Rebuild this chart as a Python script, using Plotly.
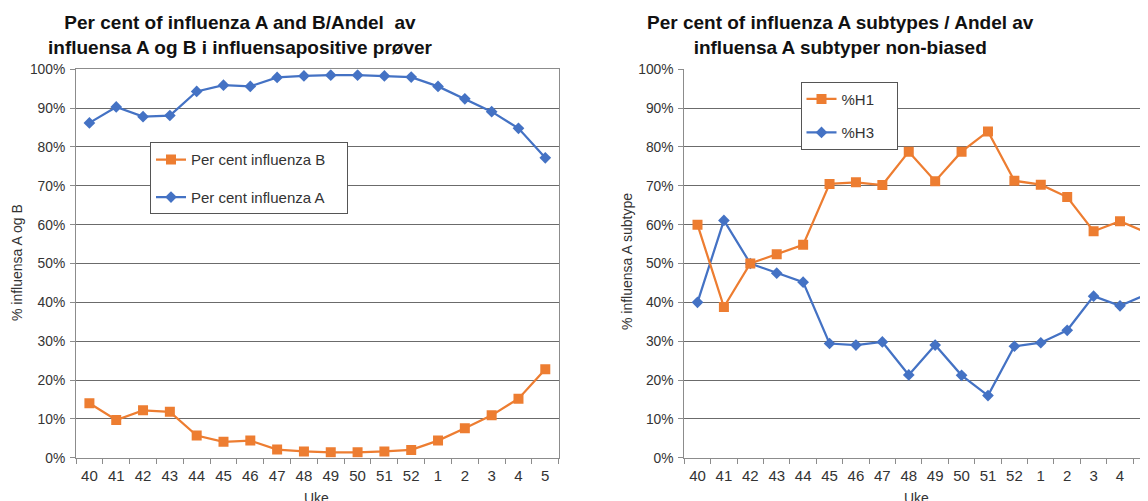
import plotly.graph_objects as go

weeks = ["40", "41", "42", "43", "44", "45", "46", "47", "48", "49", "50",
         "51", "52", "1", "2", "3", "4", "5"]

pct_influenza_b = [14.0, 9.7, 12.2, 11.8, 5.7, 4.1, 4.4, 2.1, 1.6, 1.4, 1.4,
                   1.6, 2.0, 4.4, 7.6, 10.9, 15.2, 22.8]
pct_influenza_a = [86.2, 90.3, 87.8, 88.1, 94.3, 95.9, 95.6, 97.9, 98.3, 98.5, 98.5,
                   98.3, 98.0, 95.6, 92.4, 89.1, 84.8, 77.2]

pct_h1 = [60.0, 38.8, 50.0, 52.4, 54.8, 70.5, 70.9, 70.2, 78.8, 71.2, 78.8,
          84.0, 71.3, 70.3, 67.1, 58.3, 60.9, 58.0]
pct_h3 = [40.0, 61.1, 50.0, 47.5, 45.2, 29.4, 29.0, 29.8, 21.3, 29.0, 21.2,
          16.0, 28.7, 29.6, 32.8, 41.6, 39.1, 42.0]

ORANGE = "#ED7D31"
BLUE = "#4472C4"
GRID = "#6b6b6b"
AXIS = "#8c8c8c"
TXT = "#333333"
FONT = "Liberation Sans, Arial, sans-serif"
PAD = "\u00a0" * 4

# page body has an 8px margin; the figure is placed at (8, 8)
OFF = 8
W, H = 1148 - OFF, 501 - OFF


def px_x(v):
    return (v - OFF) / W


def px_y(v):
    return (H - (v - OFF)) / H


fig = go.Figure()

fig.add_trace(go.Scatter(x=weeks, y=pct_influenza_b, name="Per cent influenza B" + PAD,
                         mode="lines+markers", xaxis="x", yaxis="y",
                         line=dict(color=ORANGE, width=2.25),
                         marker=dict(symbol="square", size=10, color=ORANGE),
                         legend="legend", legendgroup="b"))
fig.add_trace(go.Scatter(x=weeks, y=pct_influenza_a, name="Per cent influenza A" + PAD,
                         mode="lines+markers", xaxis="x", yaxis="y",
                         line=dict(color=BLUE, width=2.25),
                         marker=dict(symbol="diamond", size=9, color=BLUE),
                         legend="legend", legendgroup="a"))
fig.add_trace(go.Scatter(x=weeks, y=pct_h3, name="%H3" + PAD,
                         mode="lines+markers", xaxis="x2", yaxis="y2",
                         line=dict(color=BLUE, width=2.25),
                         marker=dict(symbol="diamond", size=9, color=BLUE),
                         legend="legend2", legendgroup="h3", legendrank=2))
fig.add_trace(go.Scatter(x=weeks, y=pct_h1, name="%H1" + PAD,
                         mode="lines+markers", xaxis="x2", yaxis="y2",
                         line=dict(color=ORANGE, width=2.25),
                         marker=dict(symbol="square", size=10, color=ORANGE),
                         legend="legend2", legendgroup="h1", legendrank=1))

ydom = [px_y(457.7), px_y(69.3)]

common_x = dict(type="category", showgrid=False, showline=True, linecolor=AXIS,
                linewidth=1, ticks="outside", tickson="boundaries", ticklen=5,
                tickcolor=AXIS, tickfont=dict(size=15, color=TXT, family=FONT),
                ticklabelstandoff=4, automargin=False, fixedrange=True)
common_y = dict(range=[0, 100], dtick=10, ticksuffix="%", showgrid=True,
                gridcolor=GRID, gridwidth=1, zeroline=False, showline=True,
                linecolor=AXIS, linewidth=1, ticks="outside", ticklen=5,
                tickcolor=AXIS, tickfont=dict(size=13.8, color=TXT, family=FONT),
                ticklabelstandoff=2, automargin=False, fixedrange=True)

legend_common = dict(xanchor="left", yanchor="top", bgcolor="white",
                     bordercolor="#555555", borderwidth=1, itemwidth=30,
                     font=dict(size=15, color=TXT, family=FONT),
                     traceorder="grouped")

fig.update_layout(
    width=W, height=H,
    margin=dict(l=0, r=0, t=0, b=0),
    paper_bgcolor="white", plot_bgcolor="white",
    font=dict(family=FONT, color=TXT),
    xaxis=dict(common_x, domain=[px_x(76), px_x(558.7)], range=[-0.5, 17.5],
               mirror=True, anchor="y"),
    yaxis=dict(common_y, domain=ydom, mirror=True, anchor="x"),
    xaxis2=dict(common_x, domain=[px_x(684.3), 1.0], range=[-0.5, 17.06],
                anchor="y2"),
    yaxis2=dict(common_y, domain=ydom, anchor="x2"),
    legend=dict(legend_common, x=px_x(150), y=px_y(142.3), tracegroupgap=15),
    legend2=dict(legend_common, x=px_x(800.5), y=px_y(81.7), tracegroupgap=11),
    showlegend=True,
)

title_font = dict(size=19, color="#111111", family=FONT)
small = dict(size=14, color=TXT, family=FONT)
annotations = [
    dict(text="<b>Per cent of influenza A and B/Andel  av</b><br><b>influensa A og B i influensapositive prøver</b>",
         x=px_x(240), y=px_y(35), xref="paper", yref="paper", showarrow=False,
         font=title_font, xanchor="center", yanchor="middle", align="center"),
    dict(text="<b>Per cent of influenza A subtypes / Andel av</b><br><b>influensa A subtyper non-biased</b>",
         x=px_x(840), y=px_y(35), xref="paper", yref="paper", showarrow=False,
         font=title_font, xanchor="center", yanchor="middle", align="center"),
    dict(text="% influensa A og B", x=px_x(17), y=px_y(263), xref="paper", yref="paper",
         showarrow=False, textangle=-90, font=small,
         xanchor="center", yanchor="middle"),
    dict(text="% influensa A subtype", x=px_x(627), y=px_y(262), xref="paper", yref="paper",
         showarrow=False, textangle=-90, font=small,
         xanchor="center", yanchor="middle"),
    dict(text="Uke", x=px_x(316), y=px_y(498), xref="paper", yref="paper",
         showarrow=False, font=small, xanchor="center", yanchor="middle"),
    dict(text="Uke", x=px_x(916), y=px_y(498), xref="paper", yref="paper",
         showarrow=False, font=small, xanchor="center", yanchor="middle"),
]
fig.update_layout(annotations=annotations)

fig.write_html("out.html")
